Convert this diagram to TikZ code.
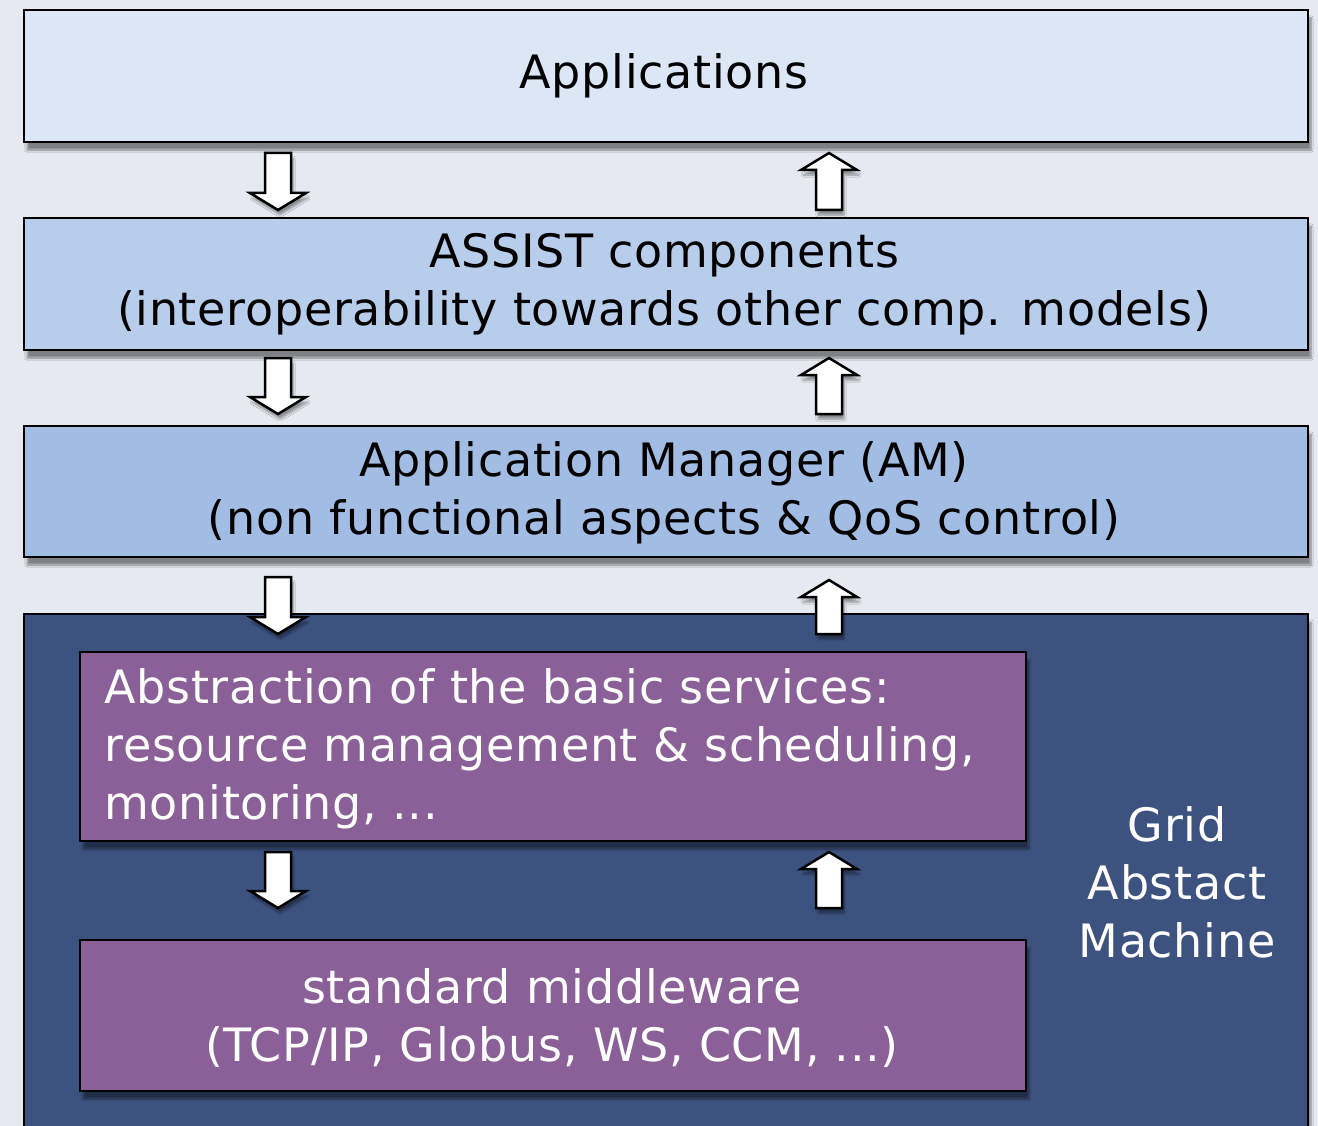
\documentclass[tikz,border=0pt]{standalone}
\usepackage{fontspec}
\setmainfont[LetterSpace=1.5]{DejaVu Sans}
\usetikzlibrary{shadows.blur}
\definecolor{bgc}{RGB}{230,234,240}
\definecolor{appc}{RGB}{221,230,244}
\definecolor{assc}{RGB}{183,205,236}
\definecolor{amc}{RGB}{162,189,228}
\definecolor{gamc}{RGB}{60,83,128}
\definecolor{purp}{RGB}{139,95,152}
\tikzset{
  layer/.style={draw=black, line width=2.2pt, blur shadow={shadow xshift=3pt, shadow yshift=-8pt, shadow blur steps=8, shadow opacity=45}},
  barrow/.style={draw=black, fill=white, line width=2.5pt, line join=miter, blur shadow={shadow xshift=2pt, shadow yshift=-5pt, shadow blur steps=6, shadow opacity=40}},
  txt/.style={font=\fontsize{46}{58}\selectfont, align=center},
}
\newcommand\downarr[3]{\path[barrow] (#1-13,#2) -- (#1+13,#2) -- (#1+13,#3-17) -- (#1+28,#3-17) -- (#1,#3) -- (#1-28,#3-17) -- (#1-13,#3-17) -- cycle;}
\newcommand\uparr[3]{\path[barrow] (#1-13,#3) -- (#1+13,#3) -- (#1+13,#2+17) -- (#1+28,#2+17) -- (#1,#2) -- (#1-28,#2+17) -- (#1-13,#2+17) -- cycle;}
\begin{document}
\begin{tikzpicture}[x=1pt,y=-1pt]
\fill[bgc] (0,0) rectangle (1318,1126);
\useasboundingbox (0,0) rectangle (1318,1126);
% layers
\path[layer, fill=appc] (24,10) rectangle (1308,142);
\node[txt] (app) at (664,76) {Applications};
\path[layer, fill=assc] (24,218) rectangle (1308,350);
\node[txt] (assist) at (664,284) {ASSIST components\\(interoperability towards other comp. models)};
\path[layer, fill=amc] (24,426) rectangle (1308,557);
\node[txt] (am) at (664,493) {Application Manager (AM)\\(non functional aspects \& QoS control)};
\path[layer, fill=gamc] (24,614) rectangle (1308,1160);
\node[txt, text=white] (gam) at (1177,882) {Grid\\Abstact\\Machine};
\path[layer, fill=purp] (80,652) rectangle (1026,841);
\node[txt, text=white, align=left, anchor=west] (abs) at (101,749) {Abstraction of the basic services:\\resource management \& scheduling,\\monitoring, ...};
\path[layer, fill=purp] (80,940) rectangle (1026,1091);
\node[txt, text=white] (mw) at (552,1018) {standard middleware\\(TCP/IP, Globus, WS, CCM, ...)};
% arrows
\downarr{278}{153}{210}
\uparr{829}{153}{210}
\downarr{278}{358}{414}
\uparr{829}{358}{414}
\downarr{278}{577}{634}
\uparr{829}{580}{634}
\downarr{278}{852}{908}
\uparr{829}{852}{908}
\end{tikzpicture}
\end{document}
